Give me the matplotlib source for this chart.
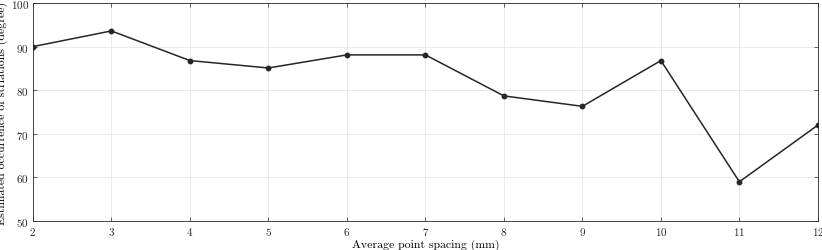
import matplotlib
matplotlib.use("Agg")
import matplotlib.pyplot as plt

spacing = [2, 3, 4, 5, 6, 7, 8, 9, 10, 11, 12]
angle = [90.0, 93.6, 86.8, 85.1, 88.1, 88.1, 78.7, 76.3, 86.8, 59.0, 72.0]

plt.rcParams.update({
    "font.family": "cmr10", "axes.formatter.use_mathtext": True,
    "font.size": 8, "xtick.direction": "in", "ytick.direction": "in",
    "xtick.top": True, "ytick.right": True,
})

fig = plt.figure(figsize=(8.22, 2.51), dpi=100)
ax = fig.add_axes([0.040, 0.1155, 0.955, 0.8685])
ax.plot(spacing, angle, "-o", color="#262626", lw=1.1, ms=3.2)
ax.set_xlim(2, 12); ax.set_ylim(50, 100)
ax.set_xticks(spacing)
ax.set_yticks(range(50, 101, 10))
ax.grid(True, color="#e6e6e6", lw=0.6)
ax.set_axisbelow(True)
for s in ax.spines.values():
    s.set_color("#262626"); s.set_linewidth(0.6)
ax.tick_params(colors="#262626", length=3, width=0.5, labelsize=8, pad=3)
ax.set_xlabel("Average point spacing (mm)", fontsize=8.5, labelpad=1)
ax.set_ylabel("Estimated occurrence of striations (degree)", fontsize=8.5, labelpad=2)
fig.savefig("out.png", dpi=100)
